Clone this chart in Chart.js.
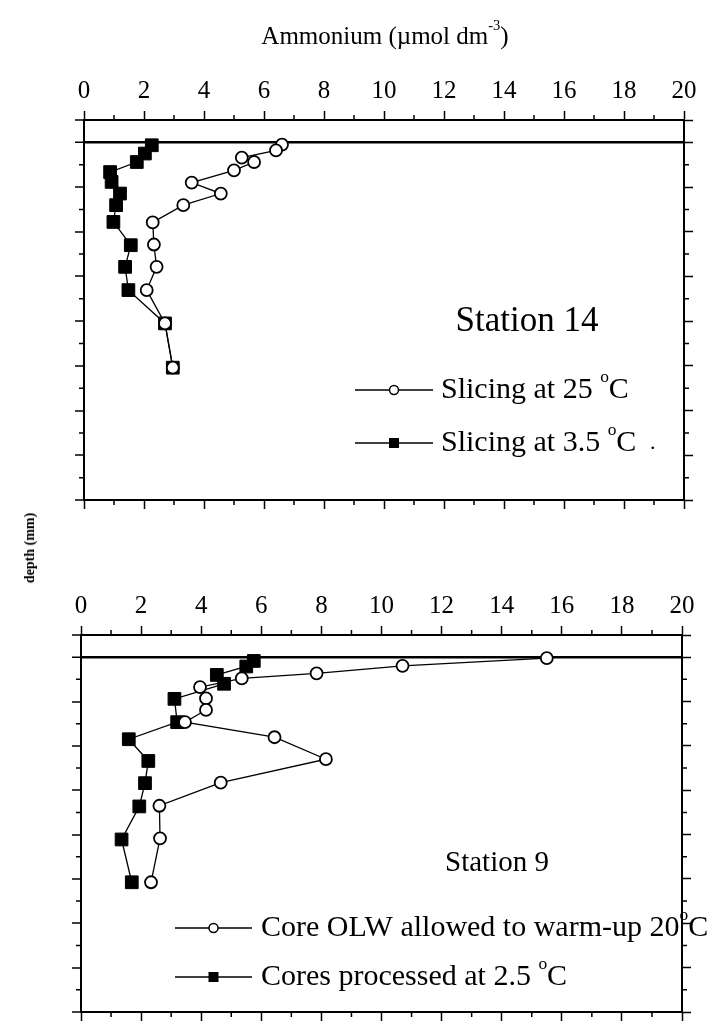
<!DOCTYPE html>
<html>
<head>
<meta charset="utf-8">
<script src="https://cdn.jsdelivr.net/npm/chart.js@4.4.1/dist/chart.umd.min.js"></script>
<style>
  body { margin: 0; background: #fff; }
  #wrap { position: relative; width: 723px; height: 1028px; background: #fff; }
  canvas { position: absolute; left: 0; }
  #depthLabel {
    position: absolute; left: 30px; top: 548px;
    transform: translate(-50%, -50%) rotate(-90deg);
    font: bold 14px "Liberation Serif", serif; white-space: nowrap; color: #000;
  }
</style>
</head>
<body>
<div id="wrap">
  <canvas id="topChart" width="723" height="530" style="top:0"></canvas>
  <canvas id="bottomChart" width="723" height="498" style="top:530px"></canvas>
  <div id="depthLabel">depth (mm)</div>
</div>
<script>
// ── DATA ─────────────────────────────────────────────────────
// Station 14 (top panel)
const st14WarmDepth = [0.1, 0.36, 0.68, 0.88, 1.25, 1.8, 2.29, 2.81, 3.58, 4.57, 5.57, 6.61, 8.1, 10.08];
const st14WarmNH4   = [6.6, 6.4, 5.26, 5.67, 5.0, 3.59, 4.56, 3.31, 2.29, 2.33, 2.42, 2.09, 2.7, 2.96];
const st14ColdDepth = [0.13, 0.5, 0.88, 1.33, 1.77, 2.29, 2.81, 3.56, 4.6, 5.57, 6.61, 8.1, 10.08];
const st14ColdNH4   = [2.26, 2.03, 1.76, 0.87, 0.92, 1.2, 1.07, 0.98, 1.56, 1.37, 1.48, 2.7, 2.96];

// Station 9 (bottom panel)
const st9OlwDepth  = [0.04, 0.39, 0.73, 0.96, 1.35, 1.86, 2.38, 2.93, 3.61, 4.6, 5.66, 6.7, 8.17, 10.15];
const st9OlwNH4    = [15.5, 10.7, 7.84, 5.35, 3.96, 4.16, 4.16, 3.46, 6.44, 8.15, 4.65, 2.61, 2.63, 2.33];
const st9CoreDepth = [0.17, 0.42, 0.8, 1.2, 1.88, 2.93, 3.7, 4.68, 5.68, 6.73, 8.22, 10.15];
const st9CoreNH4   = [5.75, 5.5, 4.52, 4.76, 3.11, 3.2, 1.59, 2.24, 2.13, 1.94, 1.35, 1.69];

const xMin = 0, xMax = 20, xMajorStep = 2;
const depthMin = -1, depthMax = 16, depthMajorStep = 2;

const titleText = 'Ammonium (\u00b5mol dm';
const legend14 = ['Slicing at 25 ', 'Slicing at 3.5 '];
const legend9  = ['Core OLW allowed to warm-up 20', 'Cores processed at 2.5 '];

const FONT = '"Liberation Serif", "Times New Roman", serif';

function toPoints(xs, ys) {
    return xs.map((x, i) => ({ x: x, y: ys[i] }));
}

// ── TEXT HELPERS ─────────────────────────────────────────────
function drawRich(ctx, parts, x, y, size, align) {
    let total = 0;
    parts.forEach(p => {
        ctx.font = (p.sup ? size * 0.58 : size) + 'px ' + FONT;
        p._w = ctx.measureText(p.t).width;
        total += p._w;
    });
    let cx = align === 'center' ? x - total / 2 : x;
    ctx.textBaseline = 'middle';
    ctx.textAlign = 'left';
    ctx.fillStyle = '#000';
    parts.forEach(p => {
        ctx.font = (p.sup ? size * 0.58 : size) + 'px ' + FONT;
        ctx.fillText(p.t, cx, p.sup ? y - size * 0.42 : y);
        cx += p._w;
    });
}

const notesPlugin = {
    id: 'notes',
    afterDraw(chart, args, opts) {
        const ctx = chart.ctx;
        ctx.save();
        (opts.texts || []).forEach(t => drawRich(ctx, t.parts, t.x, t.y, t.size, t.align));
        (opts.legend || []).forEach(l => {
            ctx.strokeStyle = '#000';
            ctx.lineWidth = 1.5;
            ctx.beginPath();
            ctx.moveTo(l.x1, l.y);
            ctx.lineTo(l.x2, l.y);
            ctx.stroke();
            const mx = (l.x1 + l.x2) / 2;
            if (l.marker === 'circle') {
                ctx.beginPath();
                ctx.arc(mx, l.y, 4.5, 0, Math.PI * 2);
                ctx.fillStyle = '#fff';
                ctx.fill();
                ctx.stroke();
            } else {
                ctx.fillStyle = '#000';
                ctx.fillRect(mx - 5, l.y - 5, 10, 10);
            }
            drawRich(ctx, l.parts, l.tx, l.y, l.size, 'left');
        });
        ctx.restore();
    }
};

// short ticks between the labelled ones
const minorTicksPlugin = {
    id: 'minorTicks',
    afterDraw(chart) {
        const ctx = chart.ctx;
        const s = chart.scales;
        const len = 5;
        ctx.save();
        ctx.strokeStyle = '#000';
        ctx.lineWidth = 1.5;
        ctx.beginPath();
        for (let v = xMin + 1; v < xMax; v += 2) {
            const px = s.x.getPixelForValue(v);
            ctx.moveTo(px, s.x.bottom); ctx.lineTo(px, s.x.bottom - len);
            ctx.moveTo(px, s.x2.top); ctx.lineTo(px, s.x2.top + len);
        }
        for (let v = 1; v < depthMax; v += 2) {
            const py = s.y.getPixelForValue(v);
            ctx.moveTo(s.y.right, py); ctx.lineTo(s.y.right - len, py);
            ctx.moveTo(s.y2.left, py); ctx.lineTo(s.y2.left + len, py);
        }
        ctx.stroke();
        ctx.restore();
    }
};

// ── PANEL BUILDER ────────────────────────────────────────────
function makePanel(canvasId, circleData, squareData, padding, notes) {
    const grid = { drawOnChartArea: false, tickLength: 9, tickWidth: 1.5, tickColor: '#000', color: '#000' };
    const border = { display: true, color: '#000', width: 2 };
    return new Chart(document.getElementById(canvasId), {
        type: 'scatter',
        data: {
            datasets: [
                {
                    data: circleData, showLine: true,
                    borderColor: '#000', borderWidth: 1.3,
                    pointStyle: 'circle', pointRadius: 6,
                    pointBackgroundColor: '#fff', pointBorderColor: '#000', pointBorderWidth: 1.8
                },
                {
                    data: squareData, showLine: true,
                    borderColor: '#000', borderWidth: 1.3,
                    pointStyle: 'rect', pointRadius: 9,
                    pointBackgroundColor: '#000', pointBorderColor: '#000', pointBorderWidth: 1
                }
            ]
        },
        options: {
            responsive: false, animation: false, devicePixelRatio: 1,
            layout: { padding: padding },
            plugins: { legend: { display: false }, tooltip: { enabled: false }, notes: notes },
            scales: {
                x: {
                    type: 'linear', position: 'top', min: xMin, max: xMax,
                    ticks: { stepSize: xMajorStep, color: '#000', padding: 5, maxRotation: 0,
                             font: { family: FONT, size: 25 } },
                    grid: grid, border: border,
                    afterFit: (sc) => { sc.height = 50; }
                },
                x2: {
                    type: 'linear', position: 'bottom', min: xMin, max: xMax,
                    ticks: { stepSize: xMajorStep, display: false },
                    grid: grid, border: border,
                    afterFit: (sc) => { sc.height = 15; }
                },
                y: {
                    type: 'linear', position: 'left', reverse: true, min: depthMin, max: depthMax,
                    ticks: { stepSize: depthMajorStep, display: false },
                    grid: {
                        drawOnChartArea: true, tickLength: 9, tickWidth: 1.5, tickColor: '#000',
                        color: (c) => (c.tick && c.tick.value === 0) ? '#000' : 'rgba(0,0,0,0)',
                        lineWidth: (c) => (c.tick && c.tick.value === 0) ? 2.5 : 0
                    },
                    border: border,
                    afterFit: (sc) => { sc.width = 14; }
                },
                y2: {
                    type: 'linear', position: 'right', reverse: true, min: depthMin, max: depthMax,
                    ticks: { stepSize: depthMajorStep, display: false },
                    grid: grid, border: border,
                    afterFit: (sc) => { sc.width = 14; }
                }
            }
        },
        plugins: [notesPlugin, minorTicksPlugin]
    });
}

const degParts = [{ t: 'o', sup: true }, { t: 'C' }];

makePanel('topChart',
    toPoints(st14WarmNH4, st14WarmDepth),
    toPoints(st14ColdNH4, st14ColdDepth),
    { top: 70, left: 70, right: 25, bottom: 15 },
    {
        texts: [
            { parts: [{ t: titleText }, { t: '-3', sup: true }, { t: ')' }], x: 385, y: 37, size: 25, align: 'center' },
            { parts: [{ t: 'Station 14' }], x: 527, y: 322, size: 35, align: 'center' },
            { parts: [{ t: '.' }], x: 650, y: 443, size: 22, align: 'left' }
        ],
        legend: [
            { x1: 355, x2: 433, y: 390, marker: 'circle', tx: 441, size: 30, parts: [{ t: legend14[0] }].concat(degParts) },
            { x1: 355, x2: 433, y: 443, marker: 'square', tx: 441, size: 30, parts: [{ t: legend14[1] }].concat(degParts) }
        ]
    });

makePanel('bottomChart',
    toPoints(st9OlwNH4, st9OlwDepth),
    toPoints(st9CoreNH4, st9CoreDepth),
    { top: 55, left: 67, right: 27, bottom: 1 },
    {
        texts: [
            { parts: [{ t: 'Station 9' }], x: 497, y: 333, size: 29, align: 'center' }
        ],
        legend: [
            { x1: 175, x2: 252, y: 398, marker: 'circle', tx: 261, size: 30, parts: [{ t: legend9[0] }].concat(degParts) },
            { x1: 175, x2: 252, y: 447, marker: 'square', tx: 261, size: 30, parts: [{ t: legend9[1] }].concat(degParts) }
        ]
    });
</script>
</body>
</html>
